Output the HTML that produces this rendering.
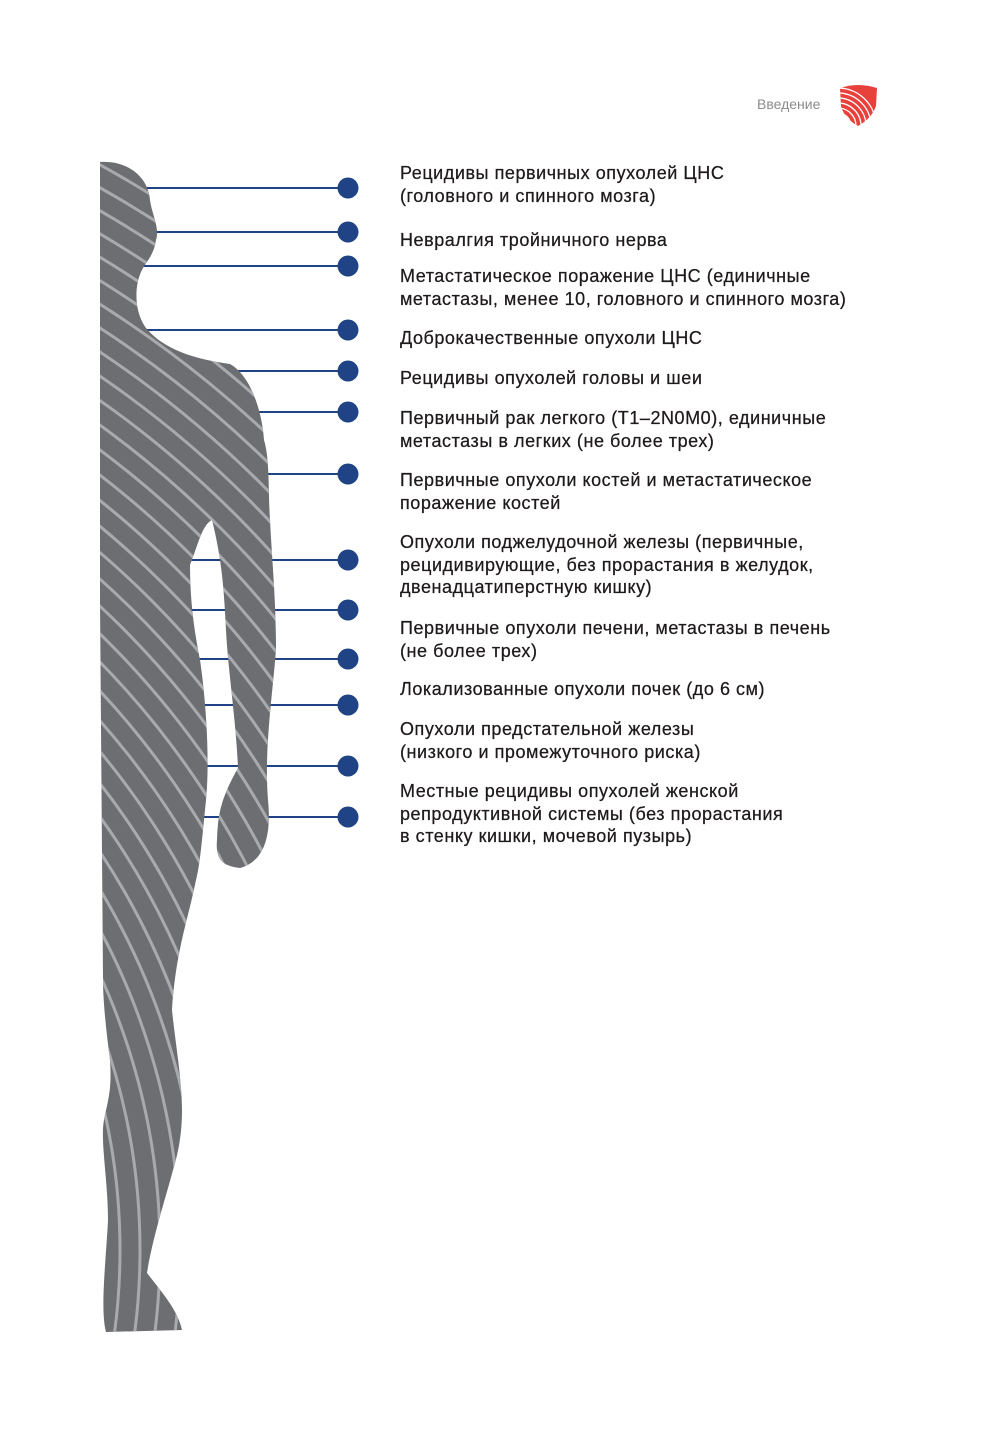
<!DOCTYPE html>
<html style="overflow:hidden"><head><meta charset="utf-8"><style>
html,body{margin:0;background:#fff;width:992px;height:1447px;overflow:hidden}
body{position:relative;font-family:"Liberation Sans","Noto Sans CJK SC",sans-serif}
.t{position:absolute;left:400px;font-size:18px;letter-spacing:0.55px;line-height:22.5px;color:#1e1a1b;white-space:nowrap;-webkit-text-stroke:0.25px #1e1a1b}
</style></head><body>
<div style="position:absolute;left:757px;top:96px;font-size:14px;color:#8c8c8c">Введение</div>
<svg width="992" height="1447" style="position:absolute;left:0;top:0">
<defs>
<clipPath id="sh"><path d="M840,88 Q858,82 877,88 L876,106 Q872,118 858,126 Q844,118 841,106 Z"/></clipPath>
<clipPath id="body"><path d="M100,162 C125,160 148,175 150,200 C152,215 160,228 156,240 C154,255 146,262 142,270 C134,285 134,312 146,328 C160,345 185,358 230,364 C250,375 262,410 264,440 C270,460 268,490 270,520 C272,560 276,600 276,650 C272,700 264,750 268,800 C272,840 262,862 240,868 C225,866 215,862 217,840 C218,815 220,800 238,768 C236,720 228,670 226,630 C224,590 222,560 212,520 C202,525 198,545 190,565 C190,600 194,630 200,660 C206,700 210,760 206,800 C202,840 200,865 196,880 C188,920 176,950 172,1010 C175,1040 182,1080 182,1110 C182,1140 176,1160 173,1170 C165,1200 152,1240 147,1273 C160,1290 178,1310 182,1330 L106,1332 C100,1310 106,1260 108,1220 C108,1180 100,1140 104,1120 C108,1100 112,1090 110,1060 C106,1030 103,1000 103,980 L100,600 Z"/></clipPath>
</defs>
<g stroke="#1f4384" stroke-width="2">
<line x1="140" y1="188" x2="348" y2="188"/><line x1="140" y1="232" x2="348" y2="232"/><line x1="140" y1="266" x2="348" y2="266"/><line x1="140" y1="330" x2="348" y2="330"/><line x1="200" y1="371" x2="348" y2="371"/><line x1="240" y1="412" x2="348" y2="412"/><line x1="240" y1="474" x2="348" y2="474"/><line x1="180" y1="560" x2="348" y2="560"/><line x1="180" y1="610" x2="348" y2="610"/><line x1="180" y1="659" x2="348" y2="659"/><line x1="180" y1="705" x2="348" y2="705"/><line x1="180" y1="766" x2="348" y2="766"/><line x1="180" y1="817" x2="348" y2="817"/>
</g>
<g fill="#1f4384">
<circle cx="348" cy="188" r="10.5"/><circle cx="348" cy="232" r="10.5"/><circle cx="348" cy="266" r="10.5"/><circle cx="348" cy="330" r="10.5"/><circle cx="348" cy="371" r="10.5"/><circle cx="348" cy="412" r="10.5"/><circle cx="348" cy="474" r="10.5"/><circle cx="348" cy="560" r="10.5"/><circle cx="348" cy="610" r="10.5"/><circle cx="348" cy="659" r="10.5"/><circle cx="348" cy="705" r="10.5"/><circle cx="348" cy="766" r="10.5"/><circle cx="348" cy="817" r="10.5"/>
</g>
<g clip-path="url(#body)">
<rect x="90" y="150" width="200" height="1200" fill="#6d6e71"/>
<g fill="none" stroke="#a9aaad" stroke-width="3">
<circle cx="-500" cy="1250" r="600"/><circle cx="-500" cy="1250" r="620"/><circle cx="-500" cy="1250" r="640"/><circle cx="-500" cy="1250" r="660"/><circle cx="-500" cy="1250" r="680"/><circle cx="-500" cy="1250" r="700"/><circle cx="-500" cy="1250" r="720"/><circle cx="-500" cy="1250" r="740"/><circle cx="-500" cy="1250" r="760"/><circle cx="-500" cy="1250" r="780"/><circle cx="-500" cy="1250" r="800"/><circle cx="-500" cy="1250" r="820"/><circle cx="-500" cy="1250" r="840"/><circle cx="-500" cy="1250" r="860"/><circle cx="-500" cy="1250" r="880"/><circle cx="-500" cy="1250" r="900"/><circle cx="-500" cy="1250" r="920"/><circle cx="-500" cy="1250" r="940"/><circle cx="-500" cy="1250" r="960"/><circle cx="-500" cy="1250" r="980"/><circle cx="-500" cy="1250" r="1000"/><circle cx="-500" cy="1250" r="1020"/><circle cx="-500" cy="1250" r="1040"/><circle cx="-500" cy="1250" r="1060"/><circle cx="-500" cy="1250" r="1080"/><circle cx="-500" cy="1250" r="1100"/><circle cx="-500" cy="1250" r="1120"/><circle cx="-500" cy="1250" r="1140"/><circle cx="-500" cy="1250" r="1160"/><circle cx="-500" cy="1250" r="1180"/><circle cx="-500" cy="1250" r="1200"/><circle cx="-500" cy="1250" r="1220"/><circle cx="-500" cy="1250" r="1240"/><circle cx="-500" cy="1250" r="1260"/>
</g></g>
<g clip-path="url(#sh)">
<rect x="838" y="80" width="42" height="50" fill="#e8413c"/>
<g fill="none" stroke="#fff" stroke-width="1.3">
<circle cx="838" cy="126" r="8"/><circle cx="838" cy="126" r="13"/><circle cx="838" cy="126" r="18"/><circle cx="838" cy="126" r="23"/><circle cx="838" cy="126" r="28"/><circle cx="838" cy="126" r="33"/><circle cx="838" cy="126" r="38"/>
</g></g>
</svg>
<div class="t" style="top:162px">Рецидивы первичных опухолей ЦНС<br>(головного и спинного мозга)</div>
<div class="t" style="top:229px">Невралгия тройничного нерва</div>
<div class="t" style="top:265px">Метастатическое поражение ЦНС (единичные<br>метастазы, менее 10, головного и спинного мозга)</div>
<div class="t" style="top:327px">Доброкачественные опухоли ЦНС</div>
<div class="t" style="top:367px">Рецидивы опухолей головы и шеи</div>
<div class="t" style="top:407px">Первичный рак легкого (T1–2N0M0), единичные<br>метастазы в легких (не более трех)</div>
<div class="t" style="top:469px">Первичные опухоли костей и метастатическое<br>поражение костей</div>
<div class="t" style="top:531px">Опухоли поджелудочной железы (первичные,<br>рецидивирующие, без прорастания в желудок,<br>двенадцатиперстную кишку)</div>
<div class="t" style="top:617px">Первичные опухоли печени, метастазы в печень<br>(не более трех)</div>
<div class="t" style="top:678px">Локализованные опухоли почек (до 6 см)</div>
<div class="t" style="top:718px">Опухоли предстательной железы<br>(низкого и промежуточного риска)</div>
<div class="t" style="top:780px">Местные рецидивы опухолей женской<br>репродуктивной системы (без прорастания<br>в стенку кишки, мочевой пузырь)</div>
</body></html>
